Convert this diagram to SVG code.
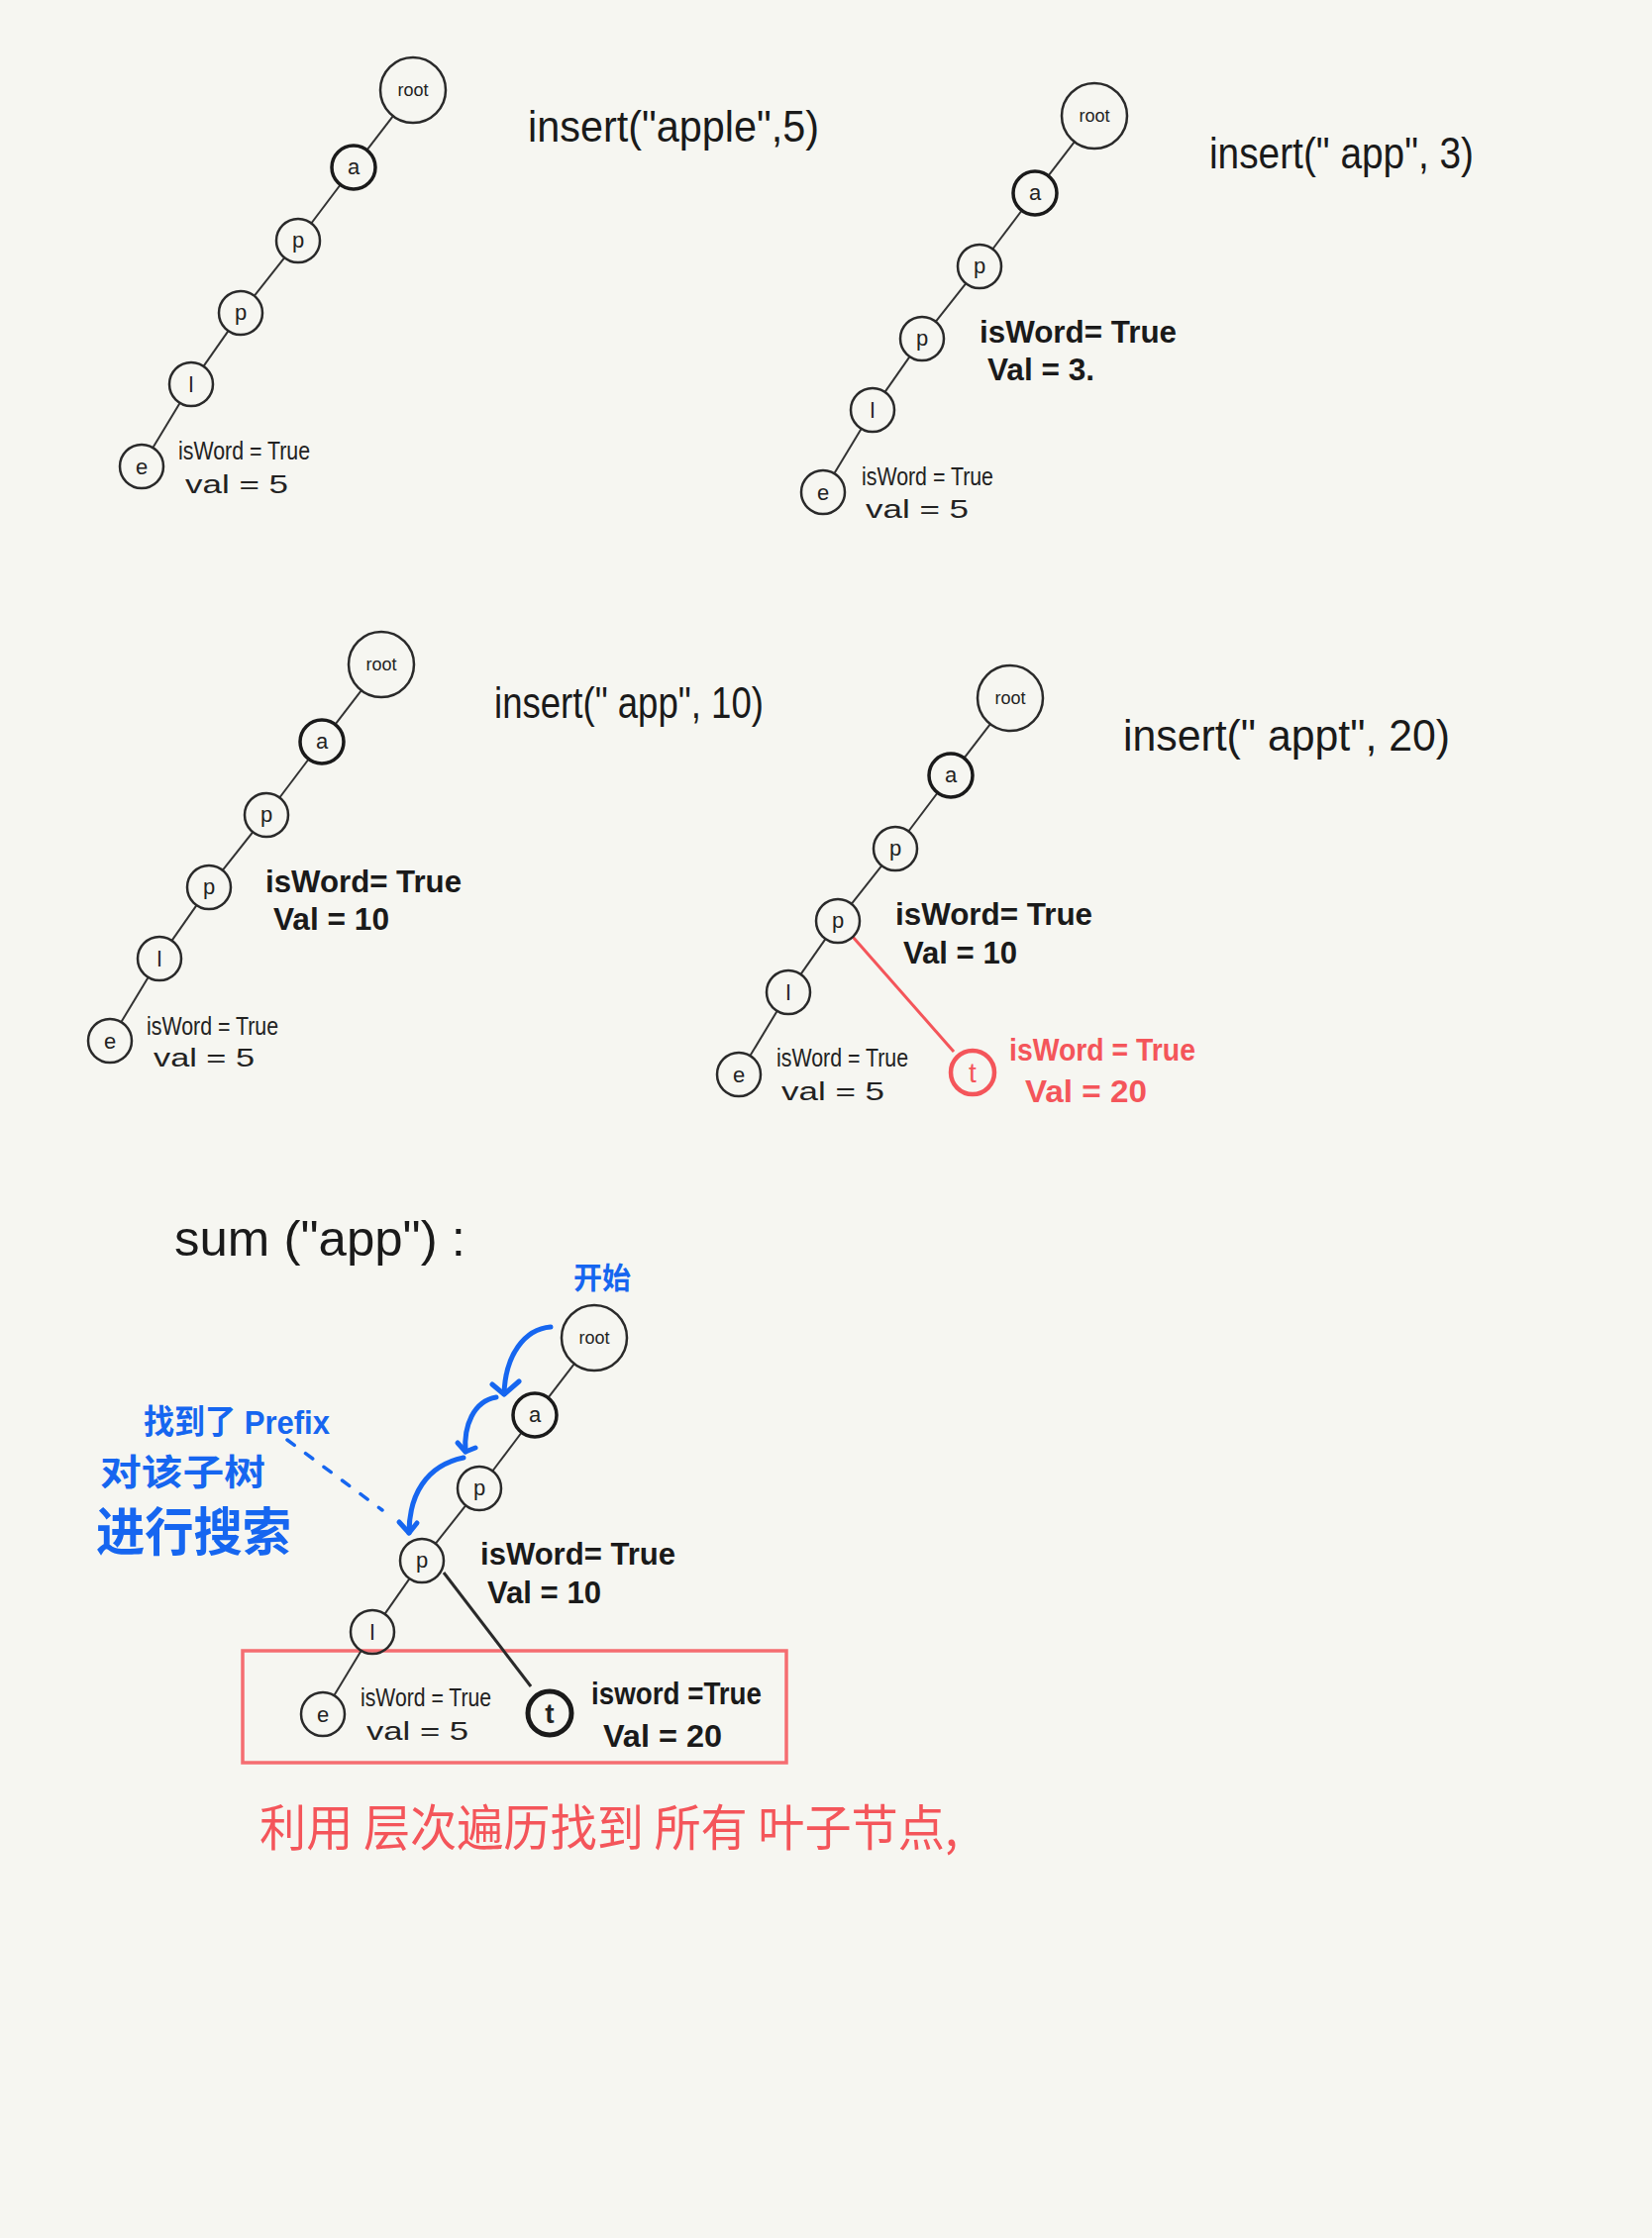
<svg xmlns="http://www.w3.org/2000/svg" width="1668" height="2260" viewBox="0 0 1668 2260">
<defs>
<style>
.bg{fill:#F6F6F1}
.nd{fill:none;stroke:#2a2a2a;stroke-width:2.5}
.nda{fill:none;stroke:#1a1a1a;stroke-width:3.5}
.lbl{font-family:"Liberation Sans",sans-serif;font-size:22px;fill:#222;text-anchor:middle}
.lblr{font-family:"Liberation Sans",sans-serif;font-size:18px;fill:#222;text-anchor:middle}
.edge{stroke:#333;stroke-width:2;fill:none}
.sm{font-family:"Liberation Sans",sans-serif;font-size:26px;fill:#222}
.big{font-family:"Liberation Sans",sans-serif;font-size:32px;font-weight:bold;fill:#1a1a1a}
.ttl{font-family:"Liberation Sans",sans-serif;font-size:44px;fill:#1a1a1a}
.red{fill:#F4555A}
.blue{fill:#1666F0;font-family:"Liberation Sans","Noto Sans CJK SC",sans-serif;font-weight:bold}
.cjk{font-family:"Noto Sans CJK SC",sans-serif}
.barrow{fill:none;stroke:#1666F0;stroke-width:5;stroke-linecap:round;stroke-linejoin:round}
</style>
</defs>
<rect class="bg" x="0" y="0" width="1668" height="2260"/>

<!-- Panel 1 -->
<g id="panel1" transform="translate(417,91)">
<g id="p1-edges">
<line class="edge" x1="-20.1" y1="26.2" x2="-46.6" y2="60.6"/>
<line class="edge" x1="-73.3" y1="95.5" x2="-102.7" y2="134.5"/>
<line class="edge" x1="-129.7" y1="169.2" x2="-160.3" y2="207.8"/>
<line class="edge" x1="-186.5" y1="243.1" x2="-211.5" y2="278.9"/>
<line class="edge" x1="-235.4" y1="315.9" x2="-262.6" y2="361.1"/>
</g>
<g id="p1-root"><circle class="nd" cx="0" cy="0" r="33"/><text class="lblr" x="0" y="6">root</text></g>
<g id="p1-a"><circle class="nda" cx="-60" cy="78" r="22"/><text class="lbl" x="-60" y="85">a</text></g>
<g id="p1-p1"><circle class="nd" cx="-116" cy="152" r="22"/><text class="lbl" x="-116" y="159">p</text></g>
<g id="p1-p2"><circle class="nd" cx="-174" cy="225" r="22"/><text class="lbl" x="-174" y="232">p</text></g>
<g id="p1-l"><circle class="nd" cx="-224" cy="297" r="22"/><text class="lbl" x="-224" y="305">l</text></g>
<g id="p1-e"><circle class="nd" cx="-274" cy="380" r="22"/><text class="lbl" x="-274" y="388">e</text></g>
<text class="sm" x="-237" y="373" textLength="133" lengthAdjust="spacingAndGlyphs">isWord = True</text>
<text class="sm" x="-230" y="407" textLength="104" lengthAdjust="spacingAndGlyphs">val   = 5</text>
</g>
<text class="ttl" x="533" y="143" textLength="294" lengthAdjust="spacingAndGlyphs">insert("apple",5)</text>

<!-- Panel 2 -->
<g id="panel2" transform="translate(1105,117)">
<g id="p2-edges">
<line class="edge" x1="-20.1" y1="26.2" x2="-46.6" y2="60.6"/>
<line class="edge" x1="-73.3" y1="95.5" x2="-102.7" y2="134.5"/>
<line class="edge" x1="-129.7" y1="169.2" x2="-160.3" y2="207.8"/>
<line class="edge" x1="-186.5" y1="243.1" x2="-211.5" y2="278.9"/>
<line class="edge" x1="-235.4" y1="315.9" x2="-262.6" y2="361.1"/>
</g>
<g id="p2-root"><circle class="nd" cx="0" cy="0" r="33"/><text class="lblr" x="0" y="6">root</text></g>
<g id="p2-a"><circle class="nda" cx="-60" cy="78" r="22"/><text class="lbl" x="-60" y="85">a</text></g>
<g id="p2-p1"><circle class="nd" cx="-116" cy="152" r="22"/><text class="lbl" x="-116" y="159">p</text></g>
<g id="p2-p2"><circle class="nd" cx="-174" cy="225" r="22"/><text class="lbl" x="-174" y="232">p</text></g>
<g id="p2-l"><circle class="nd" cx="-224" cy="297" r="22"/><text class="lbl" x="-224" y="305">l</text></g>
<g id="p2-e"><circle class="nd" cx="-274" cy="380" r="22"/><text class="lbl" x="-274" y="388">e</text></g>
<text class="big" x="-116" y="229" textLength="199" lengthAdjust="spacingAndGlyphs">isWord= True</text>
<text class="big" x="-108" y="267" textLength="108" lengthAdjust="spacingAndGlyphs">Val = 3.</text>
<text class="sm" x="-235" y="373" textLength="133" lengthAdjust="spacingAndGlyphs">isWord = True</text>
<text class="sm" x="-231" y="406" textLength="104" lengthAdjust="spacingAndGlyphs">val   = 5</text>
</g>
<text class="ttl" x="1221" y="170" textLength="267" lengthAdjust="spacingAndGlyphs">insert(" app", 3)</text>

<!-- Panel 3 -->
<g id="panel3" transform="translate(385,671)">
<g id="p3-edges">
<line class="edge" x1="-20.1" y1="26.2" x2="-46.6" y2="60.6"/>
<line class="edge" x1="-73.3" y1="95.5" x2="-102.7" y2="134.5"/>
<line class="edge" x1="-129.7" y1="169.2" x2="-160.3" y2="207.8"/>
<line class="edge" x1="-186.5" y1="243.1" x2="-211.5" y2="278.9"/>
<line class="edge" x1="-235.4" y1="315.9" x2="-262.6" y2="361.1"/>
</g>
<g id="p3-root"><circle class="nd" cx="0" cy="0" r="33"/><text class="lblr" x="0" y="6">root</text></g>
<g id="p3-a"><circle class="nda" cx="-60" cy="78" r="22"/><text class="lbl" x="-60" y="85">a</text></g>
<g id="p3-p1"><circle class="nd" cx="-116" cy="152" r="22"/><text class="lbl" x="-116" y="159">p</text></g>
<g id="p3-p2"><circle class="nd" cx="-174" cy="225" r="22"/><text class="lbl" x="-174" y="232">p</text></g>
<g id="p3-l"><circle class="nd" cx="-224" cy="297" r="22"/><text class="lbl" x="-224" y="305">l</text></g>
<g id="p3-e"><circle class="nd" cx="-274" cy="380" r="22"/><text class="lbl" x="-274" y="388">e</text></g>
<text class="big" x="-117" y="230" textLength="198" lengthAdjust="spacingAndGlyphs">isWord= True</text>
<text class="big" x="-109" y="268" textLength="117" lengthAdjust="spacingAndGlyphs">Val = 10</text>
<text class="sm" x="-237" y="374" textLength="133" lengthAdjust="spacingAndGlyphs">isWord = True</text>
<text class="sm" x="-230" y="406" textLength="102" lengthAdjust="spacingAndGlyphs">val   = 5</text>
</g>
<text class="ttl" x="499" y="725" textLength="272" lengthAdjust="spacingAndGlyphs">insert(" app", 10)</text>

<!-- Panel 4 -->
<g id="panel4" transform="translate(1020,705)">
<g id="p4-edges">
<line class="edge" x1="-20.1" y1="26.2" x2="-46.6" y2="60.6"/>
<line class="edge" x1="-73.3" y1="95.5" x2="-102.7" y2="134.5"/>
<line class="edge" x1="-129.7" y1="169.2" x2="-160.3" y2="207.8"/>
<line class="edge" x1="-186.5" y1="243.1" x2="-211.5" y2="278.9"/>
<line class="edge" x1="-235.4" y1="315.9" x2="-262.6" y2="361.1"/>
<line x1="-159" y1="241" x2="-57" y2="357" stroke="#F4555A" stroke-width="3"/>
</g>
<g id="p4-root"><circle class="nd" cx="0" cy="0" r="33"/><text class="lblr" x="0" y="6">root</text></g>
<g id="p4-a"><circle class="nda" cx="-60" cy="78" r="22"/><text class="lbl" x="-60" y="85">a</text></g>
<g id="p4-p1"><circle class="nd" cx="-116" cy="152" r="22"/><text class="lbl" x="-116" y="159">p</text></g>
<g id="p4-p2"><circle class="nd" cx="-174" cy="225" r="22"/><text class="lbl" x="-174" y="232">p</text></g>
<g id="p4-l"><circle class="nd" cx="-224" cy="297" r="22"/><text class="lbl" x="-224" y="305">l</text></g>
<g id="p4-e"><circle class="nd" cx="-274" cy="380" r="22"/><text class="lbl" x="-274" y="388">e</text></g>
<g id="p4-t"><circle cx="-38" cy="378" r="22" fill="none" stroke="#F4555A" stroke-width="4.5"/><text class="lbl red" x="-38" y="388" style="font-size:28px">t</text></g>
<text class="big" x="-116" y="229" textLength="199" lengthAdjust="spacingAndGlyphs">isWord= True</text>
<text class="big" x="-108" y="268" textLength="115" lengthAdjust="spacingAndGlyphs">Val = 10</text>
<text class="sm" x="-236" y="372" textLength="133" lengthAdjust="spacingAndGlyphs">isWord = True</text>
<text class="sm" x="-231" y="406" textLength="104" lengthAdjust="spacingAndGlyphs">val   = 5</text>
<text class="big red" x="-1" y="366" textLength="188" lengthAdjust="spacingAndGlyphs">isWord = True</text>
<text class="big red" x="15" y="408" textLength="123" lengthAdjust="spacingAndGlyphs">Val = 20</text>
</g>
<text class="ttl" x="1134" y="758" textLength="330" lengthAdjust="spacingAndGlyphs">insert(" appt", 20)</text>

<!-- Panel 5 -->
<text class="ttl" x="176" y="1268" style="font-size:50px" textLength="294" lengthAdjust="spacingAndGlyphs">sum ("app") :</text>
<rect id="leaf-box" x="245" y="1667" width="549" height="113" fill="none" stroke="#F4555A" stroke-opacity="0.85" stroke-width="3.5"/>
<g id="panel5" transform="translate(600,1351)">
<g id="p5-edges">
<line class="edge" x1="-20.1" y1="26.2" x2="-46.6" y2="60.6"/>
<line class="edge" x1="-73.3" y1="95.5" x2="-102.7" y2="134.5"/>
<line class="edge" x1="-129.7" y1="169.2" x2="-160.3" y2="207.8"/>
<line class="edge" x1="-186.5" y1="243.1" x2="-211.5" y2="278.9"/>
<line class="edge" x1="-235.4" y1="315.9" x2="-262.6" y2="361.1"/>
<line x1="-152" y1="237" x2="-64" y2="352" stroke="#2a2a2a" stroke-width="3"/>
</g>
<g id="p5-root"><circle class="nd" cx="0" cy="0" r="33"/><text class="lblr" x="0" y="6">root</text></g>
<g id="p5-a"><circle class="nda" cx="-60" cy="78" r="22"/><text class="lbl" x="-60" y="85">a</text></g>
<g id="p5-p1"><circle class="nd" cx="-116" cy="152" r="22"/><text class="lbl" x="-116" y="159">p</text></g>
<g id="p5-p2"><circle class="nd" cx="-174" cy="225" r="22"/><text class="lbl" x="-174" y="232">p</text></g>
<g id="p5-l"><circle class="nd" cx="-224" cy="297" r="22"/><text class="lbl" x="-224" y="305">l</text></g>
<g id="p5-e"><circle class="nd" cx="-274" cy="380" r="22"/><text class="lbl" x="-274" y="388">e</text></g>
<g id="p5-t"><circle cx="-45" cy="379" r="22" fill="none" stroke="#1a1a1a" stroke-width="5"/><text class="lbl" x="-45" y="389" style="font-size:28px;font-weight:bold">t</text></g>
<text class="big" x="-115" y="229" textLength="197" lengthAdjust="spacingAndGlyphs">isWord= True</text>
<text class="big" x="-108" y="268" textLength="115" lengthAdjust="spacingAndGlyphs">Val = 10</text>
<text class="sm" x="-236" y="372" textLength="132" lengthAdjust="spacingAndGlyphs">isWord = True</text>
<text class="sm" x="-230" y="406" textLength="103" lengthAdjust="spacingAndGlyphs">val   = 5</text>
<text class="big" x="-3" y="370" textLength="172" lengthAdjust="spacingAndGlyphs">isword =True</text>
<text class="big" x="9" y="413" textLength="120" lengthAdjust="spacingAndGlyphs">Val = 20</text>
</g>

<!-- Blue annotations -->
<g id="blue-arrows">
<path class="barrow" d="M556,1340 C530,1342 510,1368 509,1408"/>
<path class="barrow" d="M497,1398 L509,1408 L524,1395"/>
<path class="barrow" d="M501,1411 C478,1415 468,1440 470,1466"/>
<path class="barrow" d="M462,1457 L470,1466 L480,1462"/>
<path class="barrow" d="M468,1472 C430,1480 413,1510 413,1548"/>
<path class="barrow" d="M403,1537 L413,1548 L421,1538"/>
<line x1="290" y1="1454" x2="386" y2="1525" stroke="#1666F0" stroke-width="3.5" stroke-dasharray="9 14" stroke-linecap="round"/>
</g>
<text class="blue" x="579" y="1301" font-size="30" textLength="58" lengthAdjust="spacingAndGlyphs">开始</text>
<text class="blue" x="145" y="1448" font-size="34" textLength="188" lengthAdjust="spacingAndGlyphs">找到了 Prefix</text>
<text class="blue" x="101" y="1500" font-size="36" textLength="167" lengthAdjust="spacingAndGlyphs">对该子树</text>
<text class="blue" x="97" y="1566" font-size="52" textLength="197" lengthAdjust="spacingAndGlyphs">进行搜索</text>

<text class="cjk red" x="262" y="1864" font-size="50" textLength="705" lengthAdjust="spacingAndGlyphs">利用 层次遍历找到 所有 叶子节点,</text>
</svg>
